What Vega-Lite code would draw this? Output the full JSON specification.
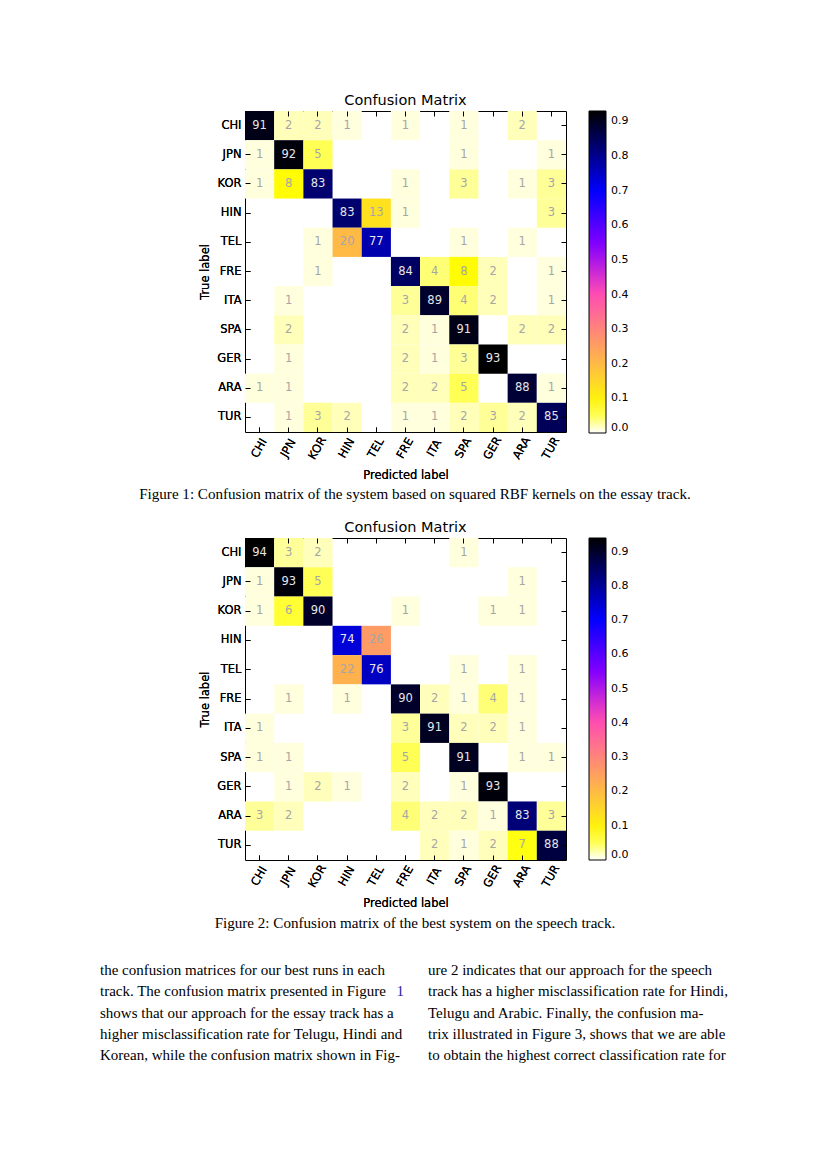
{
  "$schema": "https://vega.github.io/schema/vega-lite/v6.json",
  "background": "white",
  "padding": {"left": 100, "top": 92, "right": 0, "bottom": 0},
  "spacing": 0,
  "bounds": "flush",
  "resolve": {"scale": {"color": "independent", "x": "independent", "y": "independent"}, "legend": {"color": "independent"}},
  "config": {
    "font": "DejaVu Sans",
    "view": {"stroke": "black", "strokeWidth": 1},
    "axis": {"domain": false, "grid": false, "tickColor": "black", "tickSize": -5, "tickWidth": 1,
      "labelFont": "DejaVu Sans", "labelFontSize": 11.5, "labelColor": "black",
      "titleFont": "DejaVu Sans", "titleFontSize": 11.5, "titleFontWeight": "normal", "titleColor": "black"},
    "legend": {"labelFont": "DejaVu Sans", "labelFontSize": 11, "labelColor": "black",
      "gradientStrokeColor": "black", "gradientStrokeWidth": 1}
  },
  "datasets": {
    "fig1": [
      {"a":"CHI","p":"CHI","v":91},{"a":"CHI","p":"JPN","v":2},{"a":"CHI","p":"KOR","v":2},{"a":"CHI","p":"HIN","v":1},{"a":"CHI","p":"FRE","v":1},{"a":"CHI","p":"SPA","v":1},{"a":"CHI","p":"ARA","v":2},
      {"a":"JPN","p":"CHI","v":1},{"a":"JPN","p":"JPN","v":92},{"a":"JPN","p":"KOR","v":5},{"a":"JPN","p":"SPA","v":1},{"a":"JPN","p":"TUR","v":1},
      {"a":"KOR","p":"CHI","v":1},{"a":"KOR","p":"JPN","v":8},{"a":"KOR","p":"KOR","v":83},{"a":"KOR","p":"FRE","v":1},{"a":"KOR","p":"SPA","v":3},{"a":"KOR","p":"ARA","v":1},{"a":"KOR","p":"TUR","v":3},
      {"a":"HIN","p":"HIN","v":83},{"a":"HIN","p":"TEL","v":13},{"a":"HIN","p":"FRE","v":1},{"a":"HIN","p":"TUR","v":3},
      {"a":"TEL","p":"KOR","v":1},{"a":"TEL","p":"HIN","v":20},{"a":"TEL","p":"TEL","v":77},{"a":"TEL","p":"SPA","v":1},{"a":"TEL","p":"ARA","v":1},
      {"a":"FRE","p":"KOR","v":1},{"a":"FRE","p":"FRE","v":84},{"a":"FRE","p":"ITA","v":4},{"a":"FRE","p":"SPA","v":8},{"a":"FRE","p":"GER","v":2},{"a":"FRE","p":"TUR","v":1},
      {"a":"ITA","p":"JPN","v":1},{"a":"ITA","p":"FRE","v":3},{"a":"ITA","p":"ITA","v":89},{"a":"ITA","p":"SPA","v":4},{"a":"ITA","p":"GER","v":2},{"a":"ITA","p":"TUR","v":1},
      {"a":"SPA","p":"JPN","v":2},{"a":"SPA","p":"FRE","v":2},{"a":"SPA","p":"ITA","v":1},{"a":"SPA","p":"SPA","v":91},{"a":"SPA","p":"ARA","v":2},{"a":"SPA","p":"TUR","v":2},
      {"a":"GER","p":"JPN","v":1},{"a":"GER","p":"FRE","v":2},{"a":"GER","p":"ITA","v":1},{"a":"GER","p":"SPA","v":3},{"a":"GER","p":"GER","v":93},
      {"a":"ARA","p":"CHI","v":1},{"a":"ARA","p":"JPN","v":1},{"a":"ARA","p":"FRE","v":2},{"a":"ARA","p":"ITA","v":2},{"a":"ARA","p":"SPA","v":5},{"a":"ARA","p":"ARA","v":88},{"a":"ARA","p":"TUR","v":1},
      {"a":"TUR","p":"JPN","v":1},{"a":"TUR","p":"KOR","v":3},{"a":"TUR","p":"HIN","v":2},{"a":"TUR","p":"FRE","v":1},{"a":"TUR","p":"ITA","v":1},{"a":"TUR","p":"SPA","v":2},{"a":"TUR","p":"GER","v":3},{"a":"TUR","p":"ARA","v":2},{"a":"TUR","p":"TUR","v":85}
    ],
    "fig2": [
      {"a":"CHI","p":"CHI","v":94},{"a":"CHI","p":"JPN","v":3},{"a":"CHI","p":"KOR","v":2},{"a":"CHI","p":"SPA","v":1},
      {"a":"JPN","p":"CHI","v":1},{"a":"JPN","p":"JPN","v":93},{"a":"JPN","p":"KOR","v":5},{"a":"JPN","p":"ARA","v":1},
      {"a":"KOR","p":"CHI","v":1},{"a":"KOR","p":"JPN","v":6},{"a":"KOR","p":"KOR","v":90},{"a":"KOR","p":"FRE","v":1},{"a":"KOR","p":"GER","v":1},{"a":"KOR","p":"ARA","v":1},
      {"a":"HIN","p":"HIN","v":74},{"a":"HIN","p":"TEL","v":26},
      {"a":"TEL","p":"HIN","v":22},{"a":"TEL","p":"TEL","v":76},{"a":"TEL","p":"SPA","v":1},{"a":"TEL","p":"ARA","v":1},
      {"a":"FRE","p":"JPN","v":1},{"a":"FRE","p":"HIN","v":1},{"a":"FRE","p":"FRE","v":90},{"a":"FRE","p":"ITA","v":2},{"a":"FRE","p":"SPA","v":1},{"a":"FRE","p":"GER","v":4},{"a":"FRE","p":"ARA","v":1},
      {"a":"ITA","p":"CHI","v":1},{"a":"ITA","p":"FRE","v":3},{"a":"ITA","p":"ITA","v":91},{"a":"ITA","p":"SPA","v":2},{"a":"ITA","p":"GER","v":2},{"a":"ITA","p":"ARA","v":1},
      {"a":"SPA","p":"CHI","v":1},{"a":"SPA","p":"JPN","v":1},{"a":"SPA","p":"FRE","v":5},{"a":"SPA","p":"SPA","v":91},{"a":"SPA","p":"ARA","v":1},{"a":"SPA","p":"TUR","v":1},
      {"a":"GER","p":"JPN","v":1},{"a":"GER","p":"KOR","v":2},{"a":"GER","p":"HIN","v":1},{"a":"GER","p":"FRE","v":2},{"a":"GER","p":"SPA","v":1},{"a":"GER","p":"GER","v":93},
      {"a":"ARA","p":"CHI","v":3},{"a":"ARA","p":"JPN","v":2},{"a":"ARA","p":"FRE","v":4},{"a":"ARA","p":"ITA","v":2},{"a":"ARA","p":"SPA","v":2},{"a":"ARA","p":"GER","v":1},{"a":"ARA","p":"ARA","v":83},{"a":"ARA","p":"TUR","v":3},
      {"a":"TUR","p":"ITA","v":2},{"a":"TUR","p":"SPA","v":1},{"a":"TUR","p":"GER","v":2},{"a":"TUR","p":"ARA","v":7},{"a":"TUR","p":"TUR","v":88}
    ],
    "captions": [
      {"fig": "Figure 1", "text": "Figure 1: Confusion matrix of the system based on squared RBF kernels on the essay track."},
      {"fig": "Figure 2", "text": "Figure 2: Confusion matrix of the best system on the speech track."}
    ],
    "body": [
      {"col":"L","line":1,"kind":"text","text":"the confusion matrices for our best runs in each"},
      {"col":"L","line":2,"kind":"text","text":"track. The confusion matrix presented in Figure"},
      {"col":"L","line":2,"kind":"ref","text":"1"},
      {"col":"L","line":3,"kind":"text","text":"shows that our approach for the essay track has a"},
      {"col":"L","line":4,"kind":"text","text":"higher misclassification rate for Telugu, Hindi and"},
      {"col":"L","line":5,"kind":"text","text":"Korean, while the confusion matrix shown in Fig-"},
      {"col":"R","line":1,"kind":"text","text":"ure 2 indicates that our approach for the speech"},
      {"col":"R","line":2,"kind":"text","text":"track has a higher misclassification rate for Hindi,"},
      {"col":"R","line":3,"kind":"text","text":"Telugu and Arabic.  Finally, the confusion ma-"},
      {"col":"R","line":4,"kind":"text","text":"trix illustrated in Figure 3, shows that we are able"},
      {"col":"R","line":5,"kind":"text","text":"to obtain the highest correct classification rate for"}
    ]
  },
  "vconcat": [
    {
      "title": {"text": "Confusion Matrix", "fontSize": 14.5, "fontWeight": "normal", "font": "DejaVu Sans", "color": "black", "offset": 2, "anchor": "middle"},
      "width": 321, "height": 321,
      "data": {"name": "fig1"},
      "encoding": {
        "x": {"field": "p", "type": "nominal", "scale": {"domain": ["CHI","JPN","KOR","HIN","TEL","FRE","ITA","SPA","GER","ARA","TUR"], "paddingInner": 0, "paddingOuter": 0},
          "axis": {"title": "Predicted label", "orient": "bottom", "labelAngle": -60, "labelAlign": "center", "labelBaseline": "middle", "labelPadding": 21, "titlePadding": 8}},
        "y": {"field": "a", "type": "nominal", "scale": {"domain": ["CHI","JPN","KOR","HIN","TEL","FRE","ITA","SPA","GER","ARA","TUR"], "paddingInner": 0, "paddingOuter": 0},
          "axis": {"title": "True label", "orient": "left", "labelPadding": 9, "titlePadding": 6}}
      },
      "layer": [
        {"mark": {"type": "rect"},
          "encoding": {"color": {"field": "v", "type": "quantitative",
            "scale": {"domain": [0, 7.44, 40.69, 53.94, 69.75, 93], "range": ["#ffffff", "#ffff00", "#ff49b6", "#8700ff", "#0000ff", "#000000"], "interpolate": "rgb"},
            "legend": {"title": null, "orient": "right", "offset": 22, "direction": "vertical", "gradientLength": 322, "gradientThickness": 17, "values": [0,10,20,30,40,50,60,70,80,90], "labelExpr": "format(datum.value/100, '.1f')", "labelOverlap": false, "labelOffset": 5}}}},
        {"mark": {"type": "text", "fontSize": 11.5, "font": "DejaVu Sans"},
          "encoding": {"text": {"field": "v", "type": "quantitative"},
            "color": {"condition": {"test": "datum.v >= 50", "value": "#e6e6e6"}, "value": "#a6a6a6"}}},
        {"mark": {"type": "rect", "opacity": 0},
          "encoding": {
            "x": {"field": "p", "type": "nominal", "scale": {"domain": ["CHI","JPN","KOR","HIN","TEL","FRE","ITA","SPA","GER","ARA","TUR"], "paddingInner": 0, "paddingOuter": 0}, "axis": {"orient": "top", "labels": false, "title": null}},
            "y": {"field": "a", "type": "nominal", "scale": {"domain": ["CHI","JPN","KOR","HIN","TEL","FRE","ITA","SPA","GER","ARA","TUR"], "paddingInner": 0, "paddingOuter": 0}, "axis": {"orient": "right", "labels": false, "title": null}}
          }}
      ],
      "resolve": {"axis": {"x": "independent", "y": "independent"}}
    },
    {
      "width": 321, "height": 106,
      "view": {"stroke": null},
      "data": {"name": "captions"},
      "transform": [{"filter": "datum.fig == 'Figure 1'"}],
      "mark": {"type": "text", "align": "center", "baseline": "middle", "font": "Liberation Serif", "fontSize": 15.1, "color": "black"},
      "encoding": {
        "x": {"field": "fig", "type": "nominal", "scale": {"type": "point", "domain": ["Figure 1"], "range": [170, 170], "padding": 0}, "axis": null},
        "y": {"field": "fig", "type": "nominal", "scale": {"type": "point", "domain": ["Figure 1"], "range": [62, 62], "padding": 0}, "axis": null},
        "text": {"field": "text", "type": "nominal"}
      }
    },
    {
      "title": {"text": "Confusion Matrix", "fontSize": 14.5, "fontWeight": "normal", "font": "DejaVu Sans", "color": "black", "offset": 2, "anchor": "middle"},
      "width": 321, "height": 322,
      "data": {"name": "fig2"},
      "encoding": {
        "x": {"field": "p", "type": "nominal", "scale": {"domain": ["CHI","JPN","KOR","HIN","TEL","FRE","ITA","SPA","GER","ARA","TUR"], "paddingInner": 0, "paddingOuter": 0},
          "axis": {"title": "Predicted label", "orient": "bottom", "labelAngle": -60, "labelAlign": "center", "labelBaseline": "middle", "labelPadding": 21, "titlePadding": 8}},
        "y": {"field": "a", "type": "nominal", "scale": {"domain": ["CHI","JPN","KOR","HIN","TEL","FRE","ITA","SPA","GER","ARA","TUR"], "paddingInner": 0, "paddingOuter": 0},
          "axis": {"title": "True label", "orient": "left", "labelPadding": 9, "titlePadding": 6}}
      },
      "layer": [
        {"mark": {"type": "rect"},
          "encoding": {"color": {"field": "v", "type": "quantitative",
            "scale": {"domain": [0, 7.52, 41.13, 54.52, 70.5, 94], "range": ["#ffffff", "#ffff00", "#ff49b6", "#8700ff", "#0000ff", "#000000"], "interpolate": "rgb"},
            "legend": {"title": null, "orient": "right", "offset": 22, "direction": "vertical", "gradientLength": 322, "gradientThickness": 17, "values": [0,10,20,30,40,50,60,70,80,90], "labelExpr": "format(datum.value/100, '.1f')", "labelOverlap": false, "labelOffset": 5}}}},
        {"mark": {"type": "text", "fontSize": 11.5, "font": "DejaVu Sans"},
          "encoding": {"text": {"field": "v", "type": "quantitative"},
            "color": {"condition": {"test": "datum.v >= 50", "value": "#e6e6e6"}, "value": "#a6a6a6"}}},
        {"mark": {"type": "rect", "opacity": 0},
          "encoding": {
            "x": {"field": "p", "type": "nominal", "scale": {"domain": ["CHI","JPN","KOR","HIN","TEL","FRE","ITA","SPA","GER","ARA","TUR"], "paddingInner": 0, "paddingOuter": 0}, "axis": {"orient": "top", "labels": false, "title": null}},
            "y": {"field": "a", "type": "nominal", "scale": {"domain": ["CHI","JPN","KOR","HIN","TEL","FRE","ITA","SPA","GER","ARA","TUR"], "paddingInner": 0, "paddingOuter": 0}, "axis": {"orient": "right", "labels": false, "title": null}}
          }}
      ],
      "resolve": {"axis": {"x": "independent", "y": "independent"}}
    },
    {
      "width": 321, "height": 106,
      "view": {"stroke": null},
      "data": {"name": "captions"},
      "transform": [{"filter": "datum.fig == 'Figure 2'"}],
      "mark": {"type": "text", "align": "center", "baseline": "middle", "font": "Liberation Serif", "fontSize": 15.1, "color": "black"},
      "encoding": {
        "x": {"field": "fig", "type": "nominal", "scale": {"type": "point", "domain": ["Figure 2"], "range": [170, 170], "padding": 0}, "axis": null},
        "y": {"field": "fig", "type": "nominal", "scale": {"type": "point", "domain": ["Figure 2"], "range": [63, 63], "padding": 0}, "axis": null},
        "text": {"field": "text", "type": "nominal"}
      }
    },
    {
      "width": 321, "height": 100,
      "view": {"stroke": null},
      "data": {"name": "body"},
      "layer": [
        {"transform": [{"filter": "datum.kind == 'text'"}],
          "mark": {"type": "text", "align": "left", "baseline": "middle", "font": "Liberation Serif", "fontSize": 15, "color": "black"},
          "encoding": {
            "x": {"field": "col", "type": "nominal", "scale": {"type": "point", "domain": ["L", "R"], "range": [-145, 183], "padding": 0}, "axis": null},
            "y": {"field": "line", "type": "quantitative", "scale": {"domain": [1, 5], "range": [4, 89.2]}, "axis": null},
            "text": {"field": "text", "type": "nominal"}}},
        {"transform": [{"filter": "datum.kind == 'ref'"}],
          "mark": {"type": "text", "align": "right", "baseline": "middle", "font": "Liberation Serif", "fontSize": 15, "color": "#1f1f99"},
          "encoding": {
            "x": {"field": "col", "type": "nominal", "scale": {"type": "point", "domain": ["L", "R"], "range": [159, 485], "padding": 0}, "axis": null},
            "y": {"field": "line", "type": "quantitative", "scale": {"domain": [1, 5], "range": [4, 89.2]}, "axis": null},
            "text": {"field": "text", "type": "nominal"}}}
      ],
      "resolve": {"scale": {"x": "independent"}}
    }
  ]
}
